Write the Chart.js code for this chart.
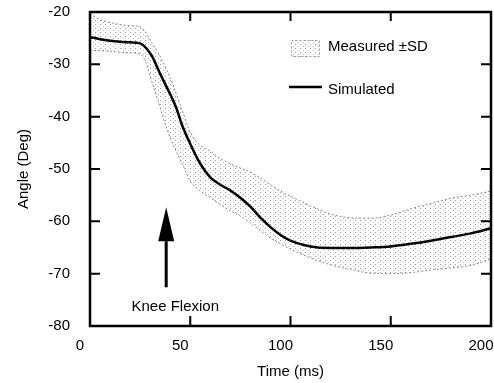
<!DOCTYPE html>
<html>
<head>
<meta charset="utf-8">
<script src="https://cdn.jsdelivr.net/npm/chart.js@4.4.1/dist/chart.umd.min.js"></script>
<style>
  html, body { margin: 0; padding: 0; background: #fff; }
  #wrap { width: 494px; height: 383px; }
</style>
</head>
<body>
<div id="wrap"><canvas id="chart"></canvas></div>
<script>
/* Knee angle vs time: measured band (±SD) and simulated curve */

const timeMs = [0, 5, 10, 15, 20, 25, 28, 31, 34, 37, 40, 43, 46, 50, 55, 60, 65, 70, 75, 80,
    85, 90, 95, 100, 110, 120, 130, 140, 150, 160, 170, 180, 190, 200];

const simulated = [-24.8, -25.2, -25.5, -25.7, -25.8, -26.0, -26.9, -28.5, -31.0, -33.4, -35.7,
    -38.3, -41.7, -45.2, -49.0, -51.6, -53.0, -54.1, -55.5, -57.2, -59.3, -61.1, -62.6, -63.7,
    -64.8, -65.1, -65.1, -65.0, -64.8, -64.3, -63.7, -63.0, -62.3, -61.3];

const measuredUpper = [-20.3, -21.5, -22.0, -22.4, -22.6, -22.8, -24.0, -26.0, -27.8, -30.0, -32.5,
    -35.6, -38.8, -43.0, -45.5, -46.6, -48.0, -49.0, -49.8, -50.6, -51.7, -53.0, -54.2, -55.2,
    -57.0, -58.6, -59.3, -59.4, -58.8, -57.6, -56.6, -55.6, -55.0, -54.2];

const measuredLower = [-27.3, -27.4, -27.5, -27.7, -27.8, -28.0, -29.8, -33.5, -37.0, -40.8, -44.0,
    -46.6, -49.0, -52.3, -54.2, -55.5, -56.8, -58.0, -59.0, -60.3, -61.8, -63.2, -64.3, -65.3,
    -67.0, -68.3, -69.2, -69.9, -70.0, -69.8, -69.3, -68.9, -68.4, -67.2];

const xTicks = [0, 50, 100, 150, 200];
const yTicks = [-80, -70, -60, -50, -40, -30, -20];

const font = "'Liberation Sans', Arial, sans-serif";

/**
 * Sparse dot texture used for the measured band
 */
function dotPattern() {
    const c = document.createElement('canvas');
    c.width = 5;
    c.height = 4;
    const g = c.getContext('2d');
    g.fillStyle = 'rgba(70, 70, 70, 0.55)';
    g.fillRect(0, 0, 1, 1);
    g.fillStyle = 'rgba(110, 110, 110, 0.45)';
    g.fillRect(3, 2, 1, 1);
    return g.createPattern(c, 'repeat');
}

const pattern = dotPattern();

const toPoints = values => values.map((v, i) => ({ x: timeMs[i], y: v }));

// Frame, inward ticks, arrow note and the legend
const decorations = {
    id: 'decorations',
    afterDatasetsDraw(chart) {
        const { ctx, chartArea: a, scales: { x, y } } = chart;
        ctx.save();

        ctx.strokeStyle = '#000';
        ctx.lineWidth = 2.5;
        ctx.strokeRect(a.left, a.top, a.right - a.left, a.bottom - a.top);

        ctx.lineWidth = 2;
        ctx.beginPath();
        xTicks.slice(1, -1).forEach(v => {
            const px = x.getPixelForValue(v);
            ctx.moveTo(px, a.bottom);
            ctx.lineTo(px, a.bottom - 10);
            ctx.moveTo(px, a.top);
            ctx.lineTo(px, a.top + 9);
        });
        yTicks.slice(1, -1).forEach(v => {
            const py = y.getPixelForValue(v);
            ctx.moveTo(a.left, py);
            ctx.lineTo(a.left + 10, py);
            ctx.moveTo(a.right, py);
            ctx.lineTo(a.right - 10, py);
        });
        ctx.stroke();

        // Arrow pointing up at the knee flexion onset
        const ax = x.getPixelForValue(38);
        const tip = y.getPixelForValue(-57.3);
        const base = y.getPixelForValue(-63.8);
        const tail = y.getPixelForValue(-72.6);
        ctx.lineWidth = 3;
        ctx.beginPath();
        ctx.moveTo(ax, tail);
        ctx.lineTo(ax, base);
        ctx.stroke();
        ctx.fillStyle = '#000';
        ctx.beginPath();
        ctx.moveTo(ax, tip);
        ctx.lineTo(ax - 8, base);
        ctx.lineTo(ax + 8, base);
        ctx.closePath();
        ctx.fill();

        ctx.font = `15px ${font}`;
        ctx.textAlign = 'center';
        ctx.textBaseline = 'middle';
        ctx.fillText('Knee Flexion', x.getPixelForValue(42.5), y.getPixelForValue(-76.3));

        // Legend
        ctx.fillStyle = pattern;
        ctx.fillRect(291, 40, 29, 17);
        ctx.setLineDash([2, 2]);
        ctx.lineWidth = 1;
        ctx.strokeStyle = '#999';
        ctx.strokeRect(291.5, 40.5, 28, 16);
        ctx.setLineDash([]);

        ctx.strokeStyle = '#000';
        ctx.lineWidth = 2.5;
        ctx.beginPath();
        ctx.moveTo(289, 87);
        ctx.lineTo(322, 87);
        ctx.stroke();

        ctx.fillStyle = '#000';
        ctx.textAlign = 'left';
        ctx.fillText('Measured \u00b1SD', 328, 47);
        ctx.fillText('Simulated', 328, 90);

        ctx.restore();
    }
};

new Chart(document.getElementById('chart'), {
    type: 'line',
    data: {
        datasets: [
            {
                label: 'Measured ±SD',
                data: toPoints(measuredUpper),
                borderColor: '#888',
                borderWidth: 1,
                borderDash: [2, 2],
                backgroundColor: pattern,
                fill: '+1',
                pointRadius: 0,
                cubicInterpolationMode: 'monotone'
            },
            {
                label: 'Measured lower',
                data: toPoints(measuredLower),
                borderColor: '#888',
                borderWidth: 1,
                borderDash: [2, 2],
                fill: false,
                pointRadius: 0,
                cubicInterpolationMode: 'monotone'
            },
            {
                label: 'Simulated',
                data: toPoints(simulated),
                borderColor: '#000',
                borderWidth: 2.5,
                fill: false,
                pointRadius: 0,
                cubicInterpolationMode: 'monotone'
            }
        ]
    },
    options: {
        responsive: true,
        maintainAspectRatio: false,
        animation: false,
        layout: { padding: { top: 12, right: 3, left: 0, bottom: 0 } },
        plugins: {
            legend: { display: false },
            tooltip: { enabled: false }
        },
        scales: {
            x: {
                type: 'linear',
                min: 0,
                max: 200,
                grid: { display: false, drawTicks: false },
                border: { display: false },
                afterBuildTicks: s => { s.ticks = xTicks.map(v => ({ value: v })); },
                afterFit: s => { s.height = 57; s.paddingLeft = 0; s.paddingRight = 0; },
                ticks: {
                    color: '#000',
                    padding: 11,
                    labelOffset: -10,
                    maxRotation: 0,
                    autoSkip: false,
                    font: { family: font, size: 15 }
                },
                title: {
                    display: true,
                    text: 'Time (ms)',
                    color: '#000',
                    padding: { top: 0, bottom: 2 },
                    font: { family: font, size: 15 }
                }
            },
            y: {
                min: -80,
                max: -20,
                grid: { display: false, drawTicks: false },
                border: { display: false },
                afterBuildTicks: s => { s.ticks = yTicks.map(v => ({ value: v })); },
                afterFit: s => { s.width = 90; s.paddingTop = 0; s.paddingBottom = 0; },
                ticks: {
                    color: '#000',
                    padding: 20,
                    autoSkip: false,
                    font: { family: font, size: 15 }
                },
                title: {
                    display: true,
                    text: 'Angle (Deg)',
                    color: '#000',
                    padding: { top: 15, bottom: 0 },
                    font: { family: font, size: 15 }
                }
            }
        }
    },
    plugins: [decorations]
});
</script>
</body>
</html>
